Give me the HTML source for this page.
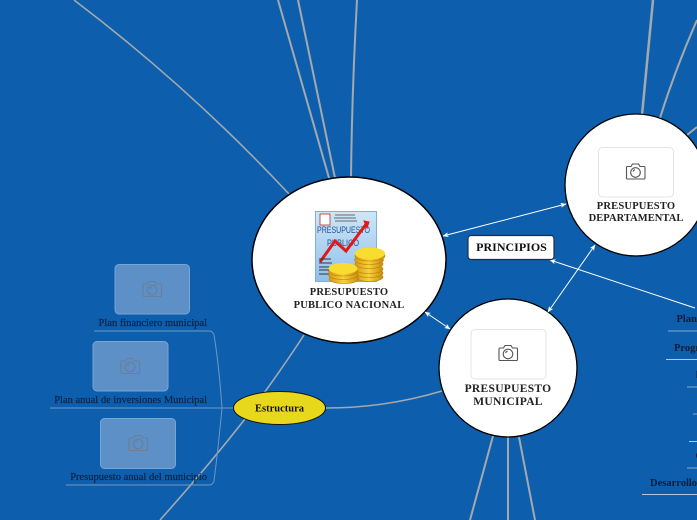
<!DOCTYPE html>
<html><head><meta charset="utf-8">
<style>
html,body{margin:0;padding:0;background:#0d5fad}
svg{display:block}
text{font-family:"Liberation Serif",serif}
</style></head><body>
<svg width="697" height="520" viewBox="0 0 697 520" xmlns="http://www.w3.org/2000/svg">
<defs>
<g id="cam" fill="none" stroke-width="1.1">
<path d="M-8.5 -6h4l1.500 -2.500h6l1.500 2.500h4a1 1 0 0 1 1 1v10.500a1 1 0 0 1 -1 1h-16.500a1 1 0 0 1 -1 -1v-10.500a1 1 0 0 1 1 -1z"/>
<circle cx="0" cy="0" r="4.800"/>
<path d="M-2.500 -1a3 3 0 0 1 2 -1.800"/>
</g>
<linearGradient id="doc" x1="0" y1="0" x2="0" y2="1"><stop offset="0" stop-color="#cfe6f7"/><stop offset="1" stop-color="#8fc0e8"/></linearGradient>
<linearGradient id="coin" x1="0" y1="0" x2="1" y2="0"><stop offset="0" stop-color="#d89a10"/><stop offset=".5" stop-color="#f7d23a"/><stop offset="1" stop-color="#c98a0c"/></linearGradient>
<marker id="a" viewBox="0 0 6 6" refX="5.500" refY="3" markerWidth="6" markerHeight="6" orient="auto-start-reverse"><path d="M0 .5L6 3L0 5.500L1.500 3z" fill="#fff"/></marker>
</defs>
<rect width="697" height="520" fill="#0d5fad"/>

<g fill="none" stroke="#a3a9ae" stroke-width="2">
<path d="M74 0Q190 88 289 194" stroke-width="1.600"/>
<path d="M278 0L329 178"/>
<path d="M298 0L335 178"/>
<path d="M357 0Q352 90 351 177"/>
<path d="M653 0L642 115" stroke-width="2.500"/>
<path d="M697 20Q675 70 660 118"/>
<path d="M697 127L687 135"/>
<path d="M493 436L470 520"/>
<path d="M508 437V520"/>
<path d="M519 437L535 520"/>
<path d="M326 408Q385 408 442 391" stroke-width="1.500"/>
<path d="M304 335Q280 372 245 419Q205 470 160 520" stroke-width="1.600"/>
</g>

<!-- left branch -->
<g fill="none" stroke="#6d97c5" stroke-width="1">
<path d="M94 331H209Q213 331 214 335Q219 365 222 408"/>
<path d="M50 408H233"/>
<path d="M66 485H209Q213 485 214 481Q218 450 222 408"/>
</g>
<g fill="#5c90c6" stroke="#79a5d2" stroke-width="1">
<rect x="115" y="264.500" width="74.500" height="49.500" rx="4"/>
<rect x="93" y="341.500" width="75" height="49.500" rx="4"/>
<rect x="100.500" y="418.500" width="75" height="50" rx="4"/>
</g>
<g stroke="#6b7f98">
<use href="#cam" x="152" y="290"/>
<use href="#cam" x="130" y="367"/>
<use href="#cam" x="138" y="444"/>
</g>
<g font-size="10.500" fill="#0a2347" stroke="#0a2347" stroke-width=".2" text-anchor="end">
<text x="207" y="326">Plan financiero municipal</text>
<text x="207" y="403">Plan anual de inversiones Municipal</text>
<text x="207" y="480">Presupuesto anual del municipio</text>
</g>

<!-- main nodes -->
<ellipse cx="349" cy="260" rx="97" ry="83" fill="#fff" stroke="#000" stroke-width="1.500"/>
<circle cx="636" cy="185" r="71" fill="#fff" stroke="#000" stroke-width="1.300"/>
<circle cx="508" cy="368" r="69" fill="#fff" stroke="#000" stroke-width="1.300"/>

<g fill="none" stroke="#fff" stroke-width="1">
<path d="M443 236L566 204" marker-start="url(#a)" marker-end="url(#a)"/>
<path d="M425 312L450 329" marker-start="url(#a)" marker-end="url(#a)"/>
<path d="M548 312L595 245" marker-start="url(#a)" marker-end="url(#a)"/>
<path d="M695 308L550 260" marker-end="url(#a)"/>
</g>

<!-- budget image -->
<rect x="315.500" y="211.500" width="61" height="70" fill="url(#doc)" stroke="#7fb0dc"/>
<rect x="320" y="214" width="10" height="11" fill="#fff" stroke="#b03030" stroke-width=".8"/>
<path d="M335 215h20M334 218h22M335 221h22" stroke="#444" stroke-width=".8"/>
<text x="317" y="233" font-size="9" textLength="53" lengthAdjust="spacingAndGlyphs" fill="#1f4f9a" style="font-family:'Liberation Sans',sans-serif">PRESUPUESTO</text>
<text x="327" y="246" font-size="9" textLength="32" lengthAdjust="spacingAndGlyphs" fill="#1f4f9a" style="font-family:'Liberation Sans',sans-serif">PUBLICO</text>
<path d="M320 262L335 241L346 251L367 223" fill="none" stroke="#e01818" stroke-width="3"/>
<path d="M364 221L369 222L367 228z" fill="#e01818" stroke="#e01818"/>
<path d="M319 259h12M319 263h13M319 267h11M319 270h13M319 274h14" stroke="#334" stroke-width=".9"/>
<g stroke="#b9820a" stroke-width=".6" fill="url(#coin)">
<ellipse cx="369" cy="277" rx="14" ry="4.500"/>
<ellipse cx="369" cy="273" rx="14" ry="4.500"/>
<ellipse cx="369" cy="269" rx="14" ry="4.500"/>
<ellipse cx="369" cy="264" rx="14" ry="4.500"/>
<ellipse cx="369" cy="260" rx="14.500" ry="4.500"/>
<ellipse cx="370" cy="256" rx="15" ry="5"/>
<ellipse cx="344" cy="279" rx="15" ry="4.500"/>
<ellipse cx="343.500" cy="275" rx="15" ry="4.500"/>
<ellipse cx="343" cy="271.500" rx="14.500" ry="4.500"/>
</g>
<ellipse cx="370" cy="253.500" rx="15" ry="6" fill="#f8dc30"/>
<ellipse cx="343" cy="268.500" rx="14.500" ry="5.500" fill="#f8dc30"/>

<g font-size="10.500" font-weight="bold" fill="#222" text-anchor="middle" letter-spacing=".2">
<text x="349" y="295">PRESUPUESTO</text>
<text x="349" y="308">PUBLICO NACIONAL</text>
<text x="636" y="209">PRESUPUESTO</text>
<text x="636" y="221" letter-spacing=".05">DEPARTAMENTAL</text>
</g>
<g font-size="11.500" font-weight="bold" fill="#222" text-anchor="middle" letter-spacing=".3">
<text x="508" y="392">PRESUPUESTO</text>
<text x="508" y="405">MUNICIPAL</text>
</g>

<g fill="#fff" stroke="#e4e4e4" stroke-width="1">
<rect x="598.500" y="147.500" width="75" height="49.500" rx="4"/>
<rect x="471" y="329.500" width="75" height="49.500" rx="4"/>
</g>
<g stroke="#555">
<use href="#cam" x="635.500" y="172.500"/>
<use href="#cam" x="508" y="354"/>
</g>

<rect x="468" y="235.500" width="86" height="24" rx="3" fill="#fff" stroke="#1c2d4a" stroke-width="1.200"/>
<text x="511.500" y="251" font-size="12" font-weight="bold" fill="#111" text-anchor="middle">PRINCIPIOS</text>

<ellipse cx="279.500" cy="408" rx="46" ry="16.500" fill="#e8d81c" stroke="#111" stroke-width="1"/>
<text x="279.500" y="411.500" font-size="10.500" font-weight="bold" fill="#111" text-anchor="middle">Estructura</text>

<!-- right items -->
<g fill="none" stroke="#86a9cf" stroke-width="1">
<path d="M668 331H697"/>
<path d="M666 359.500H697" stroke="#b4c8de"/>
<path d="M687 387H697"/>
<path d="M693 414H697"/>
<path d="M689 441.500H697" stroke="#b4c8de"/>
<path d="M687 468H697"/>
<path d="M642 494.500H697" stroke="#b4c8de"/>
</g>
<g font-size="10.500" font-weight="bold" fill="#0a1c38">
<text x="676.500" y="322">Plan</text>
<text x="674" y="351">Progr</text>
<text x="695.500" y="378">P</text>
<text x="695.500" y="459">C</text>
<text x="650" y="486">Desarrollo</text>
</g>
</svg>
</body></html>
